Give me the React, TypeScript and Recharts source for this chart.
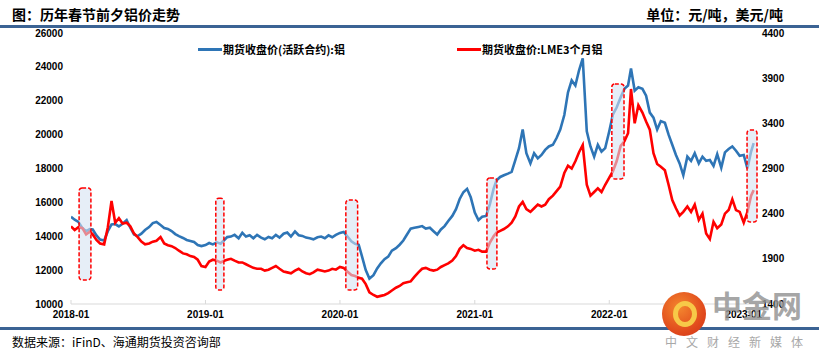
import { Line, LineChart, ReferenceArea, XAxis, YAxis } from 'recharts'

// sampling dates: 1st, 11th, 21st of every month, last close 2023-01-28
const dates: string[] = []
for (let y = 2018; y <= 2023; y++) {
  for (let m = 1; m <= 12; m++) {
    if (y === 2023 && m > 1) break
    for (const d of [1, 11, 21]) {
      dates.push(`${y}-${String(m).padStart(2, '0')}-${String(d).padStart(2, '0')}`)
    }
  }
}
dates.push('2023-01-28')

// 期货收盘价(活跃合约):铝  (元/吨, left axis)
const shfe = [
  // 2018
  15150, 14980, 14850, 14480, 14300, 14420, 14400, 14050, 13800, 13750, 14300, 14700,
  14720, 14580, 14740, 14950, 14500, 14100, 14010, 14150, 14370, 14540, 14780, 14840,
  14660, 14490, 14430, 14310, 14130, 14010, 13900, 13780, 13720, 13660, 13480, 13420,
  // 2019
  13480, 13600, 13520, 13640, 13560, 13780, 13950, 13980, 14080, 13880, 14200, 13980,
  14060, 13880, 14080, 13920, 13820, 13960, 13880, 14080, 13920, 14150, 14220, 13980,
  14280, 14060, 14020, 13920, 13880, 13820, 13940, 13980, 13880, 14050, 13940, 14080,
  // 2020
  14200, 14250, 14000, 13700, 13550, 13500, 12800, 12000, 11500, 11700, 12100, 12400,
  12650, 12800, 13150, 13300, 13500, 13750, 14100, 14450, 14500, 14550, 14600, 14450,
  14500, 14300, 14100, 14400, 14600, 14900, 15200, 15600, 16200, 16600, 16800, 16300,
  // 2021
  15400, 14950, 15150, 15200, 15900, 16800, 17300, 17500, 17600, 17700, 17800, 18500,
  19200, 20300, 18900, 18300, 18900, 18600, 18800, 19100, 19300, 19400, 19800, 20300,
  21160, 22500, 23200, 22900, 23800, 24500, 20200, 19300, 18700, 19400, 19000, 19200,
  // 2022
  20200, 21200, 21600, 22200, 22700, 22900, 23900, 22600, 22800, 22700, 22300, 21300,
  21000, 20300, 20800, 20700, 20000, 19400, 18800, 18300, 17600, 18700, 18450, 18900,
  18300, 18700, 18450, 18500, 18150, 18850, 18050, 18950, 19150, 19300, 19050, 18750,
  // 2023
  18800, 18000, 19000, 19500,
]

// 期货收盘价:LME3个月铝  (美元/吨, right axis)
const lme = [
  // 2018
  2260, 2220, 2250, 2240, 2170, 2200, 2170, 2110, 2070, 2060, 2250, 2540,
  2300, 2350, 2290, 2300, 2260, 2180, 2140, 2090, 2060, 2070, 2090, 2100,
  2140, 2070, 2050, 2040, 2020, 1990, 1960, 1950, 1930, 1920, 1890, 1820,
  // 2019
  1810, 1870, 1890, 1880, 1860, 1880, 1890, 1900, 1880, 1860, 1860, 1840,
  1820, 1800, 1790, 1790, 1770, 1780, 1800, 1820, 1790, 1760, 1750, 1740,
  1770, 1790, 1760, 1740, 1730, 1750, 1780, 1770, 1760, 1770, 1790, 1780,
  // 2020
  1810, 1800, 1760, 1720, 1710, 1690, 1680, 1620, 1530, 1500, 1480, 1490,
  1500, 1520, 1550, 1580, 1600, 1630, 1640, 1650, 1700, 1750, 1790, 1800,
  1780, 1770, 1780, 1810, 1830, 1850, 1880, 1930, 2010, 2050, 2020, 2010,
  // 2021
  1990, 2000, 1980, 1980, 2080, 2150, 2190, 2210, 2230, 2260, 2300, 2370,
  2480, 2530, 2450, 2420, 2460, 2500, 2480, 2500, 2560, 2600, 2650, 2700,
  2850, 2930, 2900, 2980, 3080, 3160, 2720, 2600, 2640, 2680, 2640, 2720,
  // 2022
  2800, 2870, 2980, 3150, 3200, 3290, 3780, 3400, 3600, 3520, 3420, 3330,
  3070, 2950, 2920, 2880, 2720, 2550, 2460, 2380, 2420, 2480, 2420, 2500,
  2330, 2400, 2180, 2120, 2310, 2240, 2280, 2400, 2440, 2560, 2440, 2420,
  // 2023
  2300, 2420, 2600, 2660,
]

const xTicks = ['2018-01', '2019-01', '2020-01', '2021-01', '2022-01', '2023-01']
const leftTicks = [10000, 12000, 14000, 16000, 18000, 20000, 22000, 24000, 26000]
const rightTicks = [1400, 1900, 2400, 2900, 3400, 3900, 4400]

// 春节前后窗口 (dashed boxes)
const boxStart = ['2018-01-23', '2019-01-29', '2020-01-17', '2021-02-03', '2022-01-08', '2023-01-10']
const boxEnd = ['2018-02-24', '2019-02-20', '2020-02-18', '2021-03-02', '2022-02-10', '2023-02-06']
const boxLow = [11420, 10830, 10830, 12070, 17380, 14840]
const boxHigh = [16850, 16250, 16140, 17440, 22990, 20270]

const toDay = (s: string) => {
  const [y, m, d] = s.split('-').map(Number)
  return (Date.UTC(y, m - 1, d || 1) - Date.UTC(2018, 0, 1)) / 86400000
}

const rows = dates.map((d, i) => ({ day: toDay(d), shfe: shfe[i], lme: lme[i] }))
const xTickDays = xTicks.map(toDay)

const numFont = '"Liberation Sans", Arial, sans-serif'
const cjkFont = '"Noto Sans CJK SC", "Noto Sans", sans-serif'

const XTick = (props: any) => {
  const { x, y, payload } = props
  const label = xTicks[xTickDays.indexOf(payload.value)]
  return (
    <g>
      <line x1={x} x2={x} y1={y} y2={y - 4} stroke="#d9d9d9" />
      <text x={x} y={y + 14} textAnchor="middle" fontSize={10} fontWeight={700} fill="#000" fontFamily={numFont}>
        {label}
      </text>
    </g>
  )
}

const BoxShape = (props: any) => {
  const { x, y, width, height } = props
  return (
    <rect
      x={x}
      y={y}
      width={width}
      height={height}
      rx={3}
      fill="#d6e2f2"
      fillOpacity={0.6}
      stroke="#ff0000"
      strokeWidth={1.5}
      strokeDasharray="4 2"
    />
  )
}

export default function App() {
  return (
    <div
      style={{
        position: 'absolute',
        left: 0,
        top: 0,
        width: 819,
        height: 361,
        background: '#fff',
        overflow: 'hidden',
        fontFamily: cjkFont,
      }}
    >
      <div style={{ position: 'absolute', left: 0, top: 0 }}>
        <LineChart width={819} height={361} data={rows} margin={{ top: 33, right: 22, bottom: 37, left: 11 }}>
          <XAxis
            dataKey="day"
            type="number"
            domain={[0, 1862]}
            ticks={xTickDays}
            tick={<XTick />}
            tickLine={false}
            tickSize={0}
            tickMargin={0}
            axisLine={{ stroke: '#d9d9d9' }}
            height={20}
            allowDataOverflow
          />
          <YAxis
            yAxisId="left"
            domain={[10000, 26000]}
            ticks={leftTicks}
            width={60}
            axisLine={false}
            tickLine={false}
            tickSize={0}
            tickMargin={8}
            tick={{ fontSize: 10, fontWeight: 700, fill: '#000', fontFamily: numFont }}
          />
          <YAxis
            yAxisId="right"
            orientation="right"
            domain={[1400, 4400]}
            ticks={rightTicks}
            width={40}
            axisLine={false}
            tickLine={false}
            tickSize={0}
            tickMargin={5}
            tick={{ fontSize: 10, fontWeight: 700, fill: '#000', fontFamily: numFont }}
          />
          <Line
            yAxisId="left"
            dataKey="shfe"
            stroke="#2e75b6"
            strokeWidth={2.6}
            dot={false}
            isAnimationActive={false}
          />
          <Line
            yAxisId="right"
            dataKey="lme"
            stroke="#ff0000"
            strokeWidth={2.6}
            dot={false}
            isAnimationActive={false}
          />
          {boxStart.map((s, i) => (
            <ReferenceArea
              key={s}
              yAxisId="left"
              x1={toDay(s)}
              x2={toDay(boxEnd[i])}
              y1={boxLow[i]}
              y2={boxHigh[i]}
              ifOverflow="visible"
              shape={<BoxShape />}
              zIndex={450}
            />
          ))}
        </LineChart>
      </div>

      {/* header */}
      <div style={{ position: 'absolute', left: 12, top: 4, fontSize: 14, fontWeight: 700, lineHeight: '20px' }}>
        图：历年春节前夕铝价走势
      </div>
      <div style={{ position: 'absolute', right: 36, top: 4, fontSize: 14, fontWeight: 700, lineHeight: '20px' }}>
        单位：元/吨，美元/吨
      </div>
      <div style={{ position: 'absolute', left: 0, top: 25, width: 819, height: 3, background: '#3b6394' }} />

      {/* legend */}
      <div style={{ position: 'absolute', left: 198, top: 48, width: 24, height: 3, background: '#2e75b6' }} />
      <div style={{ position: 'absolute', left: 223, top: 41, fontSize: 11, fontWeight: 700, lineHeight: '16px' }}>
        期货收盘价(活跃合约):铝
      </div>
      <div style={{ position: 'absolute', left: 457, top: 48, width: 24, height: 3, background: '#ff0000' }} />
      <div style={{ position: 'absolute', left: 482, top: 41, fontSize: 11, fontWeight: 700, lineHeight: '16px' }}>
        期货收盘价:LME3个月铝
      </div>

      {/* footer */}
      <div style={{ position: 'absolute', left: 0, top: 327, width: 819, height: 3, background: '#3b6394' }} />
      <div style={{ position: 'absolute', left: 12, top: 333, fontSize: 12, lineHeight: '18px' }}>
        数据来源：iFinD、海通期货投资咨询部
      </div>

      {/* watermark */}
      <div
        style={{
          position: 'absolute',
          left: 662,
          top: 292,
          width: 44,
          height: 44,
          borderRadius: '50%',
          background: 'radial-gradient(circle at 40% 35%, #f4872e, #e0481c 65%, #c9331a)',
        }}
      >
        <div
          style={{
            position: 'absolute',
            left: 11,
            top: 9,
            width: 14,
            height: 16,
            borderRadius: '50%',
            border: '5px solid #f7c948',
          }}
        />
      </div>
      <div
        style={{
          position: 'absolute',
          left: 712,
          top: 286,
          fontSize: 30,
          fontWeight: 700,
          lineHeight: '36px',
          color: 'rgba(150,150,150,0.85)',
        }}
      >
        中金网
      </div>
      <div
        style={{
          position: 'absolute',
          left: 665,
          top: 334,
          fontSize: 12,
          lineHeight: '16px',
          letterSpacing: 9,
          color: '#a8a8a8',
        }}
      >
        中文财经新媒体
      </div>
    </div>
  )
}
